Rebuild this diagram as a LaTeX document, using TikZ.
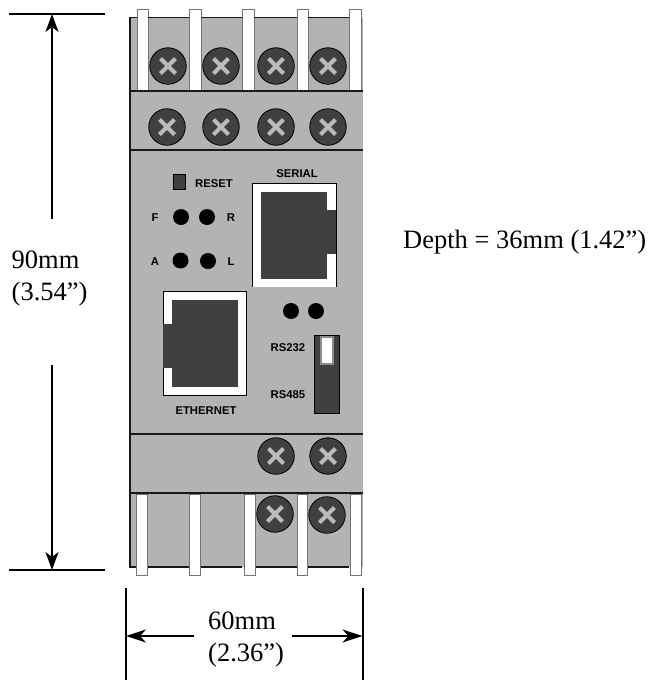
\documentclass[tikz,border=0pt]{standalone}
\usepackage{fontspec}
\setmainfont{Liberation Serif}
\newfontfamily\labelfont{Liberation Sans}
\usetikzlibrary{arrows.meta}
\definecolor{bodygray}{HTML}{B3B3B3}
\definecolor{darkfill}{HTML}{404040}
\tikzset{
  terminal/.style={draw=black!55,line width=0.9pt,fill=white},
  sectionline/.style={line width=1.4pt,draw=black!90},
  screwhead/.style={circle,draw=black,line width=0.8pt,fill=darkfill,minimum size=36.5pt,inner sep=0pt,
    path picture={\draw[bodygray!90!white,line width=4.2pt] ([xshift=-7.5pt,yshift=-7.5pt]path picture bounding box.center)--([xshift=7.5pt,yshift=7.5pt]path picture bounding box.center);
    \draw[bodygray!90!white,line width=4.2pt] ([xshift=-7.5pt,yshift=7.5pt]path picture bounding box.center)--([xshift=7.5pt,yshift=-7.5pt]path picture bounding box.center);}},
  lamp/.style={circle,fill=black,minimum size=16pt,inner sep=0pt},
  panel/.style={font=\labelfont\bfseries\fontsize{11.3}{13}\selectfont,inner sep=0pt,anchor=center},
  dimtext/.style={font=\fontsize{26.5}{30}\selectfont,inner sep=0pt,anchor=base west},
  dimline/.style={line width=1.4pt,draw=black},
  dimarrow/.style={line width=1.4pt,draw=black,-{Stealth[length=18pt,width=13pt,inset=5pt]}},
  dimarrowh/.style={line width=1.4pt,draw=black,-{Stealth[length=20pt,width=13pt,inset=6pt]}},
  portwhite/.style={fill=white,draw=none},
  portdark/.style={fill=darkfill,draw=none},
}
\begin{document}
\begin{tikzpicture}[x=1pt,y=-1pt]
\useasboundingbox (0,0) rectangle (651,681);
% body
\fill[bodygray] (130,17.5) rectangle (362.5,567);
% top terminals
\foreach \xa/\xb in {137/148,189/201,242/254,297/308,349/361}{
  \draw[terminal] (\xa,9.5) rectangle (\xb,90);
}
% body outline
\draw[sectionline] (137,17.5) -- (130,17.5) -- (130,567) -- (137,567);
\foreach \xa/\xb in {148/189,201/242,254/297,308/349}{
  \draw[sectionline] (\xa,17.5) -- (\xb,17.5);
  \draw[sectionline] (\xa,567) -- (\xb,567);
}
\draw[sectionline] (130,91) -- (362.5,91);
\draw[sectionline] (130,150) -- (362.5,150);
\draw[sectionline] (130,434) -- (362.5,434);
\draw[sectionline] (130,493) -- (362.5,493);
% bottom terminals
\foreach \xa/\xb in {136/147,189/200,244/255,297/307,350/361}{
  \draw[terminal] (\xa,494) rectangle (\xb,575.5);
}
% screws
\node[screwhead] (s1) at (168,66) {};
\node[screwhead] (s2) at (221,66) {};
\node[screwhead] (s3) at (276,66) {};
\node[screwhead] (s4) at (328,66) {};
\node[screwhead] (s5) at (167,127) {};
\node[screwhead] (s6) at (221,127) {};
\node[screwhead] (s7) at (276,127) {};
\node[screwhead] (s8) at (328,127) {};
\node[screwhead] (s9) at (276,456) {};
\node[screwhead] (s10) at (328,456) {};
\node[screwhead] (s11) at (275,514) {};
\node[screwhead] (s12) at (327,515) {};
% reset
\node[draw=black,line width=0.7pt,fill=darkfill,minimum width=12.5pt,minimum height=15.5pt,inner sep=0pt] (resetbtn) at (179.5,182) {};
\node[panel] (resetlbl) at (214,184) {RESET};
\node[panel] (seriallbl) at (297,174) {SERIAL};
% lamps
\node[lamp] (lf) at (181,217) {};
\node[lamp] (lr) at (207,217) {};
\node[lamp] (la) at (180.5,260.5) {};
\node[lamp] (ll) at (208,261) {};
\node[panel] (tf) at (155,217.5) {F};
\node[panel] (tr) at (231,217.5) {R};
\node[panel] (ta) at (155,261.5) {A};
\node[panel] (tl) at (231,262) {L};
\node[lamp] (l1) at (291,311) {};
\node[lamp] (l2) at (316,311) {};
% serial port
\fill[portwhite] (252.5,183) rectangle (336,286.5);
\draw[line width=1pt] (252.5,286.5) -- (252.5,183) -- (336,183) -- (336,286.5);
\fill[portdark] (261,192) rectangle (327,278.5);
\fill[portdark] (327,210) rectangle (336,254);
% ethernet port
\fill[portwhite] (163,291) rectangle (246.5,395);
\draw[line width=1pt] (163,291) rectangle (246.5,395);
\fill[portdark] (172,299.5) rectangle (237.5,386.5);
\fill[portdark] (163,324) rectangle (172,368);
% switch
\node[draw=black,line width=0.7pt,fill=darkfill,minimum width=25.5pt,minimum height=78pt,inner sep=0pt] (switch) at (327,374) {};
\node[draw=black!45,line width=1.6pt,fill=white,minimum width=11.5pt,minimum height=27pt,inner sep=0pt] (slider) at (327,350.5) {};
\node[panel] (t232) at (288,348) {RS232};
\node[panel] (t485) at (288,394.5) {RS485};
\node[panel] (tether) at (206,411) {ETHERNET};
% vertical dimension
\coordinate (vt1) at (9,14); \coordinate (vt2) at (105,14);
\coordinate (vb1) at (9,570); \coordinate (vb2) at (105,570);
\coordinate (vtop) at (52,14); \coordinate (vbot) at (52,570);
\coordinate (vgap1) at (52,219); \coordinate (vgap2) at (52,365);
\draw[dimline] (vt1) -- (vt2);
\draw[dimline] (vb1) -- (vb2);
\draw[dimarrow] (vgap1) -- (vtop);
\draw[dimarrow] (vgap2) -- (vbot);
\node[dimtext] (h1) at (11.5,268) {90mm};
\node[dimtext] (h2) at (11.5,300) {(3.54”)};
% horizontal dimension
\coordinate (hl1) at (126,588); \coordinate (hl2) at (126,680);
\coordinate (hr1) at (363,588); \coordinate (hr2) at (363,680);
\coordinate (hleft) at (126,636); \coordinate (hright) at (362.5,636);
\coordinate (hgap1) at (194,636); \coordinate (hgap2) at (292,636);
\draw[dimline] (hl1) -- (hl2);
\draw[dimline] (hr1) -- (hr2);
\draw[dimarrowh] (hgap1) -- (hleft);
\draw[dimarrowh] (hgap2) -- (hright);
\node[dimtext] (w1) at (208,629) {60mm};
\node[dimtext] (w2) at (208,661) {(2.36”)};
\node[dimtext] (depth) at (403,248) {Depth = 36mm (1.42”)};
\end{tikzpicture}
\end{document}
